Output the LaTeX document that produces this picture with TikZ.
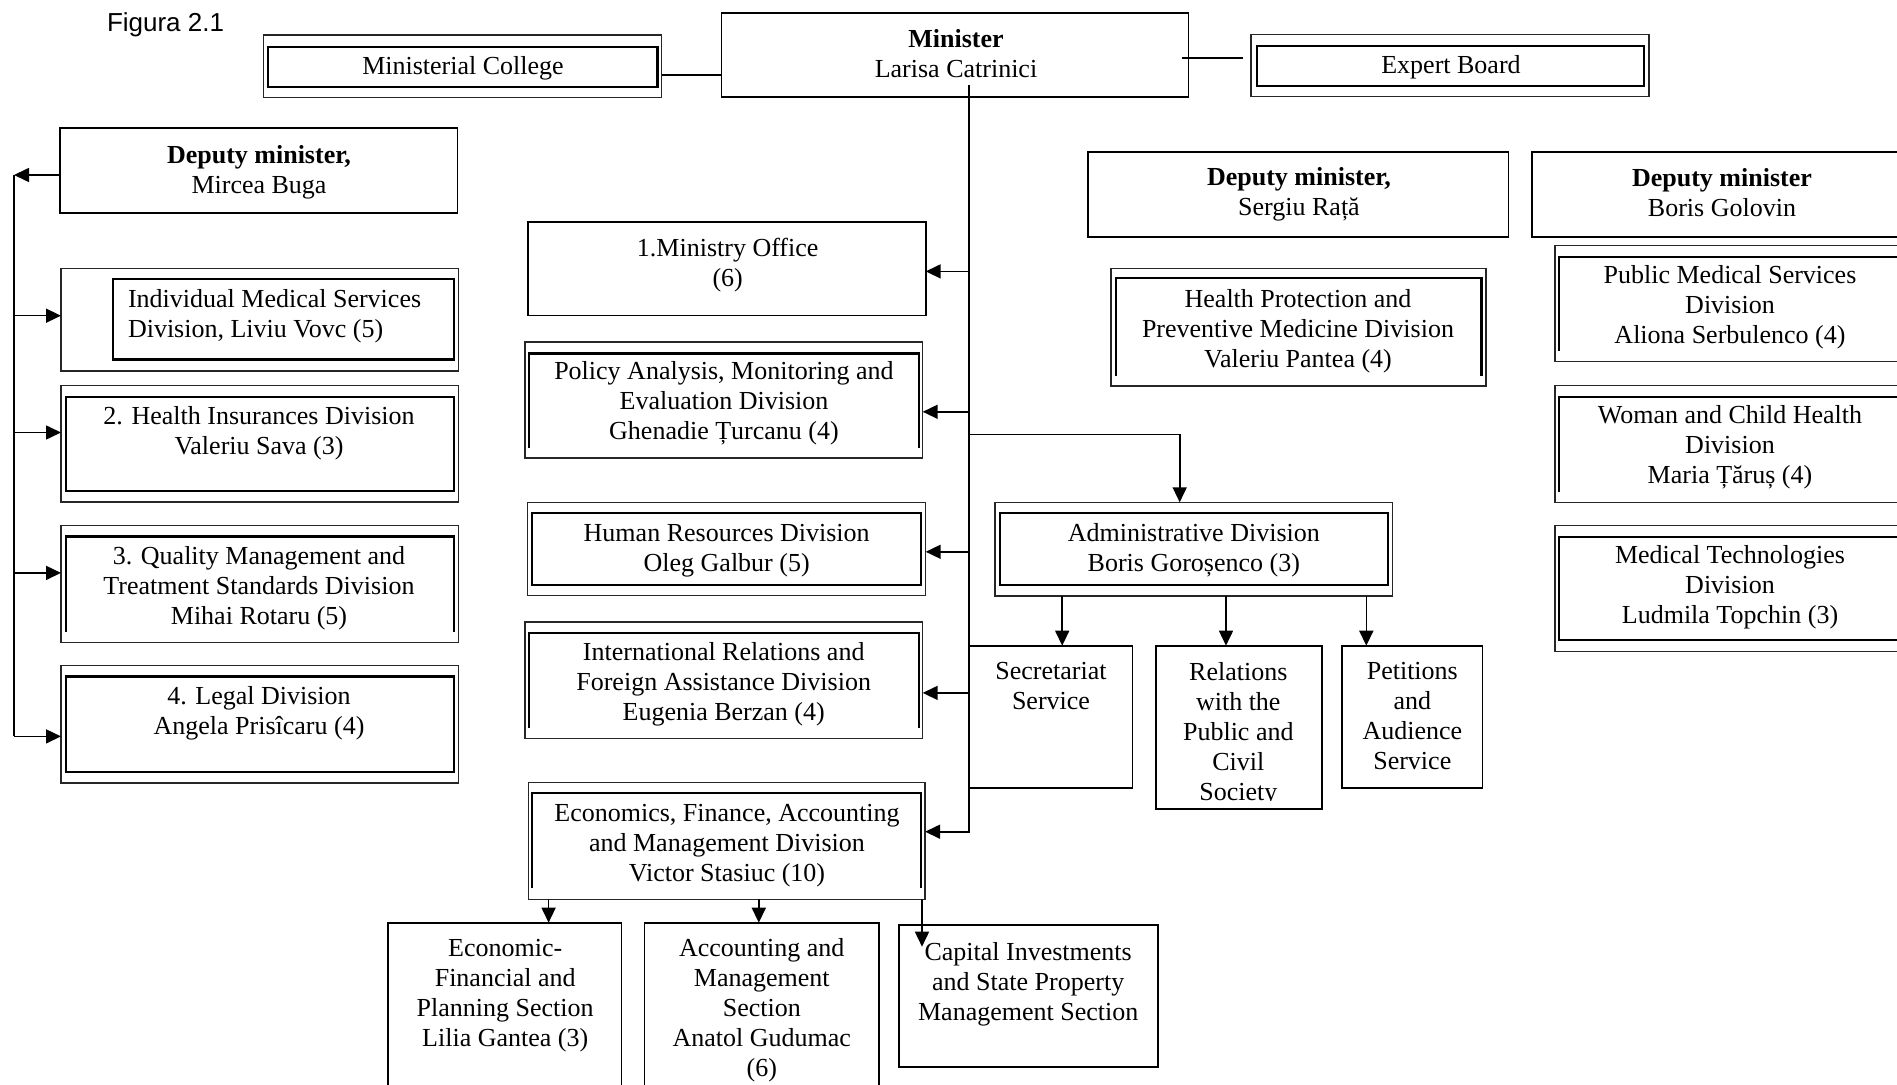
\documentclass[tikz,border=0pt]{standalone}
\usepackage{fontspec}
\setmainfont{Liberation Serif}
\newfontfamily\figfont{Liberation Sans}
\usetikzlibrary{arrows.meta,fit}

\begin{document}
\begin{tikzpicture}[x=0.5pt,y=-0.5pt,
  every node/.style={inner sep=0pt, outer sep=0pt},
  frame/.style={fit={#1}, draw=black!85, line width=0.7pt},
  solobox/.style={fit={#1}, draw=black, line width=0.85pt},
  inframe/.style={fit={#1}, draw=black, line width=1.15pt},
  slot/.style={fit={#1}},
  openside/.style={draw=black, line width=1.15pt},
  txt/.style={font=\fontsize{13}{15}\selectfont, align=center},
  link/.style={draw=black, line width=0.8pt},
  arr/.style={link, -{Triangle[length=7.5pt,width=7pt]}},
]
\useasboundingbox (0,0) rectangle (1897,1085);
\fill[white] (0,0) rectangle (1897,1085);
\clip (0,0) rectangle (1897,1085);

\node[anchor=base west, font=\figfont\fontsize{13}{15}\selectfont] (figlabel) at (107,32) {Figura 2.1};

% ---------- top row ----------
\node[solobox={(721.4,12.7)(1188.5,97.3)}] (minister) {};
\node[txt] (minister-t) at (956,54) {\textbf{Minister}\\Larisa Catrinici};

\node[frame={(263.4,35)(661.6,97.7)}] (college) {};
\node[inframe={(267.9,46.7)(657.6,87.3)}] (college-in) {};
\node[txt] (college-t) at (463,68.5) {Ministerial College};

\node[frame={(1251,34.3)(1649,96.7)}] (expert) {};
\node[inframe={(1257,45.7)(1644,86)}] (expert-in) {};
\node[txt] (expert-t) at (1451,67) {Expert Board};

\draw[link] (college.east |- 0,75) -- (minister.west |- 0,75);
\draw[link] ([xshift=-3.5pt]minister.east |- 0,58.3) -- ([xshift=-4pt]expert.west |- 0,58.3);

% ---------- left column: deputy minister Buga ----------
\node[solobox={(60.3,128.3)(457.6,212.7)}] (buga) {};
\node[txt] (buga-t) at (259,172) {\textbf{Deputy minister,}\\Mircea Buga};

\node[frame={(61,268.6)(458.3,371.1)}] (indiv) {};
\node[inframe={(112.7,279.3)(454.3,359.6)}] (indiv-in) {};
\node[txt, align=left, anchor=west] (indiv-t) at (128,316) {Individual Medical Services\\Division, Liviu Vovc (5)};

\node[frame={(61,385.4)(458.3,502.1)}] (insur) {};
\node[inframe={(65.7,396.8)(454.3,490.7)}] (insur-in) {};
\node[txt] (insur-t) at (259,433) {2. Health Insurances Division\\Valeriu Sava (3)};

\node[frame={(61,525.7)(458.3,642.5)}] (quality) {};
\node[slot={(65.7,536.4)(454.3,631.8)}] (quality-in) {};
\draw[openside] (quality-in.south west) |- (quality-in.north east) -- (quality-in.south east);
\node[txt] (quality-t) at (259,588) {3. Quality Management and\\Treatment Standards Division\\Mihai Rotaru (5)};

\node[frame={(61,665.7)(458.3,782.9)}] (legal) {};
\node[inframe={(65.7,676.4)(454.3,772.1)}] (legal-in) {};
\node[txt] (legal-t) at (259,713) {4. Legal Division\\Angela Prisîcaru (4)};

\coordinate (bus) at (14,175);
\draw[arr] (buga.west |- bus) -- (bus);
\draw[link] (bus) -- (bus |- 0,736.4);
\draw[arr] (bus |- 0,315.7) -- (indiv.west |- 0,315.7);
\draw[arr] (bus |- 0,432.5) -- (insur.west |- 0,432.5);
\draw[arr] (bus |- 0,572.9) -- (quality.west |- 0,572.9);
\draw[arr] (bus |- 0,736.4) -- (legal.west |- 0,736.4);

% ---------- centre column under the minister ----------
\node[solobox={(527.7,222.1)(925.7,315.4)}] (office) {};
\node[txt] (office-t) at (727.7,265) {1.Ministry Office\\(6)};

\node[frame={(525,342.1)(922.7,458.2)}] (policy) {};
\node[slot={(529.3,353.6)(918.7,448.2)}] (policy-in) {};
\draw[openside] (policy-in.south west) |- (policy-in.north east) -- (policy-in.south east);
\node[txt] (policy-t) at (724,403.5) {Policy Analysis, Monitoring and\\Evaluation Division\\Ghenadie Țurcanu (4)};

\node[frame={(527.7,502.5)(925.7,595.7)}] (hr) {};
\node[inframe={(532.3,513.2)(920.7,585)}] (hr-in) {};
\node[txt] (hr-t) at (726.7,551) {Human Resources Division\\Oleg Galbur (5)};

\node[frame={(525,622.1)(922.7,738.6)}] (intl) {};
\node[slot={(529.3,633.2)(918.7,727.9)}] (intl-in) {};
\draw[openside] (intl-in.south west) |- (intl-in.north east) -- (intl-in.south east);
\node[txt] (intl-t) at (723.7,684) {International Relations and\\Foreign Assistance Division\\Eugenia Berzan (4)};

\node[frame={(528.2,782.7)(925.1,899.3)}] (econ) {};
\node[slot={(532.2,793.3)(921,888.3)}] (econ-in) {};
\draw[openside] (econ-in.south west) |- (econ-in.north east) -- (econ-in.south east);
\node[txt] (econ-t) at (727,846) {Economics, Finance, Accounting\\and Management Division\\Victor Stasiuc (10)};

\node[solobox={(387.9,922.7)(621.5,1100)}] (ecofin) {};
\node[txt] (ecofin-t) at (505.2,996) {Economic-\\Financial and\\Planning Section\\Lilia Gantea (3)};

\node[solobox={(644.5,922.7)(878.7,1100)}] (acct) {};
\node[txt] (acct-t) at (761.8,1010) {Accounting and\\Management\\Section\\Anatol Gudumac\\(6)};

\node[solobox={(899.1,925)(1158.3,1067.3)}] (capital) {};
\node[txt] (capital-t) at (1028.2,984) {Capital Investments\\and State Property\\Management Section};

\coordinate (captip) at (922,946.7);
\draw[arr] (548.6,0 |- econ.south) -- (548.6,0 |- ecofin.north);
\draw[arr] (758.8,0 |- econ.south) -- (758.8,0 |- acct.north);
\draw[arr] (captip |- econ.south) -- (captip);

% ---------- administrative division and its services ----------
\node[frame={(994.9,502.3)(1392.6,596)}] (admin) {};
\node[inframe={(999.8,512.7)(1387.7,585)}] (admin-in) {};
\node[txt] (admin-t) at (1193.8,550) {Administrative Division\\Boris Goroșenco (3)};

\node[solobox={(968.7,645.7)(1132.4,787.7)}] (secr) {};
\node[txt] (secr-t) at (1051,686) {Secretariat\\Service};

\node[solobox={(1155.9,645.7)(1321.8,809)}] (relations) {};
\begin{scope}
  \clip (1155.9,645.7) rectangle (1321.8,800);
  \node[txt] (relations-t) at (1238.3,734) {Relations\\with the\\Public and\\Civil\\Society};
\end{scope}

\node[solobox={(1342.1,645.7)(1482.4,787.7)}] (petitions) {};
\node[txt] (petitions-t) at (1412.3,716.5) {Petitions\\and\\Audience\\Service};

% ---------- trunk from the minister ----------
\coordinate (trunk) at (968.7,85);
\draw[arr] (trunk) -- (trunk |- 0,831.7) -- (econ.east |- 0,831.7);
\draw[arr] (trunk |- 0,271.4) -- (office.east |- 0,271.4);
\draw[arr] (trunk |- 0,411.8) -- (policy.east |- 0,411.8);
\draw[arr] (trunk |- 0,551.8) -- (hr.east |- 0,551.8);
\draw[arr] (trunk |- 0,692.9) -- (intl.east |- 0,692.9);
\draw[arr] (trunk |- 0,434.5) -| (1179.7,0 |- admin.north);

\draw[arr] (1062.2,0 |- admin.south) -- (1062.2,0 |- secr.north);
\draw[arr] (1226,0 |- admin.south) -- (1226,0 |- relations.north);
\draw[arr] (1366.3,0 |- admin.south) -- (1366.3,0 |- petitions.north);

% ---------- deputy minister Rata ----------
\node[solobox={(1088,151.7)(1508.5,237.3)}] (rata) {};
\node[txt] (rata-t) at (1299,194) {\textbf{Deputy minister,}\\Sergiu Rață};

\node[frame={(1111,268.3)(1486,386)}] (protect) {};
\node[slot={(1115.7,278.3)(1481.5,376)}] (protect-in) {};
\draw[openside] (protect-in.south west) |- (protect-in.north east) -- (protect-in.south east);
\node[txt] (protect-t) at (1298,331) {Health Protection and\\Preventive Medicine Division\\Valeriu Pantea (4)};

% ---------- deputy minister Golovin ----------
\node[solobox={(1531.7,151.7)(1912,237.3)}] (golovin) {};
\node[txt] (golovin-t) at (1722,193) {\textbf{Deputy minister}\\Boris Golovin};

\node[frame={(1555,245.7)(1905,361.7)}] (public) {};
\node[slot={(1559.3,256.7)(1901,351)}] (public-in) {};
\draw[openside] (public-in.south west) |- (public-in.north east) -- (public-in.south east);
\node[txt] (public-t) at (1730,307.5) {Public Medical Services\\Division\\Aliona Serbulenco (4)};

\node[frame={(1555,385.7)(1905,502.3)}] (woman) {};
\node[slot={(1559.3,396.7)(1901,491.7)}] (woman-in) {};
\draw[openside] (woman-in.south west) |- (woman-in.north east) -- (woman-in.south east);
\node[txt] (woman-t) at (1730,447.5) {Woman and Child Health\\Division\\Maria Țăruș (4)};

\node[frame={(1555,525.7)(1905,651.7)}] (medtech) {};
\node[inframe={(1559.3,536.7)(1901,640)}] (medtech-in) {};
\node[txt] (medtech-t) at (1730,587) {Medical Technologies\\Division\\Ludmila Topchin (3)};
\end{tikzpicture}
\end{document}
